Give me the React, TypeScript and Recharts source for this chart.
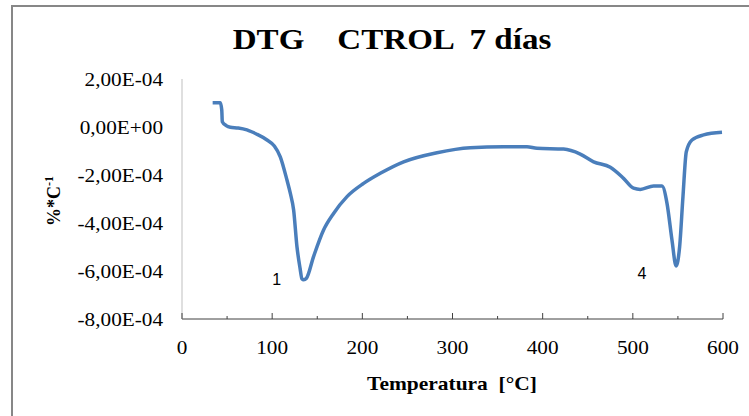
import { LineChart, Line, XAxis, YAxis, ReferenceDot } from 'recharts'

// temperature (°C) and DTG value (%*C-1)
const temperature = [
  34, 42.5, 44.1, 44.7, 49, 53.6, 62.4, 72, 82.4, 94.3, 102.4, 109, 116.4, 120.1, 123.8,
  127.5, 131, 133, 135, 138, 145.9, 157, 168.1, 183, 201.4, 219.9, 245.8, 282.8, 319.7,
  356.7, 382.6, 393.7, 423.2, 441.7, 456.5, 475, 489.7, 500.8, 508.3, 523, 532.3, 537.9,
  543.4, 548, 551.9, 555.6, 559.3, 565.6, 578.5, 598.9,
]
const dtg = [
  1.01e-4, 1.01e-4, 0.71e-4, 0.22e-4, 0.06e-4, -0.01e-4, -0.04e-4, -0.12e-4, -0.29e-4, -0.54e-4,
  -0.79e-4, -1.24e-4, -2.21e-4, -2.76e-4, -3.46e-4, -4.99e-4, -5.9e-4, -6.32e-4, -6.36e-4, -6.3e-4,
  -5.4e-4, -4.29e-4, -3.6e-4, -2.9e-4, -2.35e-4, -1.93e-4, -1.45e-4, -1.07e-4, -0.86e-4, -0.82e-4,
  -0.82e-4, -0.89e-4, -0.92e-4, -1.13e-4, -1.45e-4, -1.68e-4, -2.14e-4, -2.55e-4, -2.6e-4, -2.46e-4,
  -2.46e-4, -3.18e-4, -4.71e-4, -5.79e-4, -4.99e-4, -2.9e-4, -1.03e-4, -0.54e-4, -0.33e-4, -0.22e-4,
]

const xMajorTicks = [0, 100, 200, 300, 400, 500, 600]
const xMinorTicks = [50, 150, 250, 350, 450, 550]
const yTicks = [2e-4, 0, -2e-4, -4e-4, -6e-4, -8e-4]

const peakNames = ['1', '4']
const peakLabelT = [105, 510]
const peakLabelV = [-6.35e-4, -6.07e-4]

const data = temperature.map((t, i) => ({ t, dtg: dtg[i] }))
const xTicks = [...xMajorTicks, ...xMinorTicks].sort((a, b) => a - b)

const serif = '"Liberation Serif", "Times New Roman", serif'
const sans = '"Liberation Sans", Arial, sans-serif'

const sci = (v: number) => {
  const [m, e] = v.toExponential(2).split('e')
  const exp = Number(e)
  return m.replace('.', ',') + 'E' + (exp < 0 ? '-' : '+') + String(Math.abs(exp)).padStart(2, '0')
}

const YTick = ({ x, y, payload }: any) => (
  <text
    transform={`translate(${x - 19},${y + 7}) scale(1.18,1)`}
    textAnchor="end"
    fontFamily={serif}
    fontSize={18}
    fill="#000"
  >
    {sci(payload.value)}
  </text>
)

const XTick = ({ x, y, payload }: any) => {
  const major = xMajorTicks.includes(payload.value)
  return (
    <g>
      <line x1={x} x2={x} y1={y} y2={y - (major ? 6 : 3)} stroke="#404040" strokeWidth={1} />
      {major && (
        <text
          transform={`translate(${x},${y + 35}) scale(1.18,1)`}
          textAnchor="middle"
          fontFamily={serif}
          fontSize={18}
          fill="#000"
        >
          {payload.value}
        </text>
      )}
    </g>
  )
}

export default function App() {
  return (
    <div
      style={{
        position: 'absolute',
        left: 0,
        top: 0,
        width: 749,
        height: 416,
        overflow: 'hidden',
        background: '#fff',
      }}
    >
      <div
        style={{
          position: 'absolute',
          left: 11,
          top: 5,
          width: 780,
          height: 440,
          border: '2px solid #878787',
        }}
      />
      <div style={{ position: 'absolute', left: 0, top: 0 }}>
        <LineChart width={749} height={416} data={data} margin={{ top: 79, right: 26, left: 82, bottom: 67 }}>
          <XAxis
            dataKey="t"
            type="number"
            domain={[0, 600]}
            ticks={xTicks}
            interval={0}
            tickLine={false}
            tickSize={0}
            tickMargin={0}
            tick={<XTick />}
            height={30}
            axisLine={{ stroke: '#404040', strokeWidth: 1 }}
          />
          <YAxis
            type="number"
            domain={[-8e-4, 2e-4]}
            ticks={yTicks}
            interval={0}
            tickLine={false}
            tickSize={0}
            tickMargin={0}
            tick={<YTick />}
            width={100}
            axisLine={{ stroke: '#bfbfbf', strokeWidth: 1 }}
            allowDataOverflow
          />
          <Line
            type="monotone"
            dataKey="dtg"
            stroke="#4a7ebb"
            strokeWidth={3.5}
            dot={false}
            isAnimationActive={false}
          />
          {peakNames.map((name, i) => (
            <ReferenceDot
              key={name}
              x={peakLabelT[i]}
              y={peakLabelV[i]}
              r={0}
              shape={(p: any) => (
                <text x={p.cx} y={p.cy + 6} textAnchor="middle" fontFamily={sans} fontSize={16} fill="#000">
                  {name}
                </text>
              )}
            />
          ))}
        </LineChart>
      </div>
      <svg width={749} height={416} style={{ position: 'absolute', left: 0, top: 0, pointerEvents: 'none' }}>
        <text
          transform="translate(392,49) scale(1.14,1)"
          textAnchor="middle"
          fontFamily={serif}
          fontWeight="bold"
          fontSize={29}
          fill="#000"
          style={{ whiteSpace: 'pre' }}
        >
          {'DTG    CTROL  7 días'}
        </text>
        <text
          transform="translate(452,390) scale(1.13,1)"
          textAnchor="middle"
          fontFamily={serif}
          fontWeight="bold"
          fontSize={19}
          fill="#000"
          style={{ whiteSpace: 'pre' }}
        >
          {'Temperatura  [°C]'}
        </text>
        <text
          transform="translate(60,201) rotate(-90)"
          textAnchor="middle"
          fontFamily={serif}
          fontWeight="bold"
          fontSize={18}
          fill="#000"
        >
          %*C
          <tspan dy={-7} fontSize={12}>-1</tspan>
        </text>
      </svg>
    </div>
  )
}
